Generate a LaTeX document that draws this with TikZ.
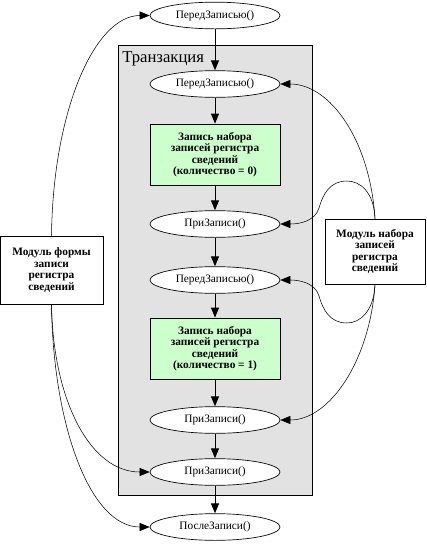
\documentclass[tikz,border=0pt]{standalone}
\usepackage{fontspec}
\setmainfont{Liberation Serif}
\usetikzlibrary{shapes.geometric,arrows.meta}
\definecolor{clustergray}{RGB}{226,226,226}
\definecolor{boxgreen}{RGB}{204,255,204}
\tikzset{
  evt/.style={ellipse,draw,fill=white,line width=0.5pt,minimum width=97.5pt,minimum height=20pt,inner sep=0pt,font=\fontsize{8.5}{9}\selectfont},
  actbox/.style={rectangle,draw,fill=boxgreen,line width=0.6pt,minimum width=97.5pt,minimum height=45.75pt,inner sep=0pt,align=center,font=\fontsize{8.5}{8.6}\selectfont\bfseries},
  modbox/.style={rectangle,draw,fill=white,line width=0.6pt,inner sep=0pt,align=center,font=\fontsize{8.5}{8.6}\selectfont\bfseries},
  flow/.style={line width=0.75pt,-{Triangle[length=7.5pt,width=6pt]}},
  call/.style={line width=0.4pt,-{Triangle[length=7.5pt,width=6pt]}},
}
\begin{document}
\begin{tikzpicture}[x=0.75pt,y=-0.75pt]
\useasboundingbox (0,0) rectangle (426,544);
% cluster
\node[draw,fill=clustergray,line width=0.6pt,minimum width=145.5pt,minimum height=337.5pt,inner sep=0pt] (tr) at (215,270) {};
\node[anchor=base west,inner sep=0pt,font=\fontsize{12.5}{13}\selectfont] (trl) at (122,62) {Транзакция};
% central chain
\node[evt] (e1) at (215,15.5) {ПередЗаписью()};
\node[evt] (e2) at (215,84) {ПередЗаписью()};
\node[actbox] (b1) at (215,154.5) {Запись набора\\записей регистра\\сведений\\(количество = 0)};
\node[evt] (e3) at (215,224) {ПриЗаписи()};
\node[evt] (e4) at (215,280) {ПередЗаписью()};
\node[actbox] (b2) at (215,348.5) {Запись набора\\записей регистра\\сведений\\(количество = 1)};
\node[evt] (e5) at (215,420) {ПриЗаписи()};
\node[evt] (e6) at (215,472) {ПриЗаписи()};
\node[evt] (e7) at (215,527) {ПослеЗаписи()};
% modules
\node[modbox,minimum width=77.25pt,minimum height=51pt] (L) at (51.5,270) {Модуль формы\\записи\\регистра\\сведений};
\node[modbox,minimum width=75pt,minimum height=48.75pt] (R) at (375,251.5) {Модуль набора\\записей\\регистра\\сведений};
% flow arrows
\draw[flow] (e1) -- (e2);
\draw[flow] (e2) -- (b1);
\draw[flow] (b1) -- (e3);
\draw[flow] (e3) -- (e4);
\draw[flow] (e4) -- (b2);
\draw[flow] (b2) -- (e5);
\draw[flow] (e5) -- (e6);
\draw[flow] (e6) -- (e7);
% left module calls
\draw[call] (L.north) .. controls (53,110) and (95,15.5) .. (e1.west);
\draw[call] (L.south) .. controls (53,400) and (90,472) .. (e6.west);
\draw[call] (L.south) .. controls (53,425) and (90,527) .. (e7.west);
% right module calls
\draw[call] (R.north) .. controls (370,140) and (330,84) .. (e2.east);
\draw[call] (R.north) .. controls (374,192) and (360,181) .. (347,181)
  .. controls (330,181) and (323,194) .. (319,208)
  .. controls (315,221) and (300,224) .. (e3.east);
\draw[call] (R.south) .. controls (374,311) and (360,323) .. (347,323)
  .. controls (330,323) and (323,310) .. (319,296)
  .. controls (315,283) and (300,280) .. (e4.east);
\draw[call] (R.south) .. controls (370,360) and (330,420) .. (e5.east);
\end{tikzpicture}
\end{document}
